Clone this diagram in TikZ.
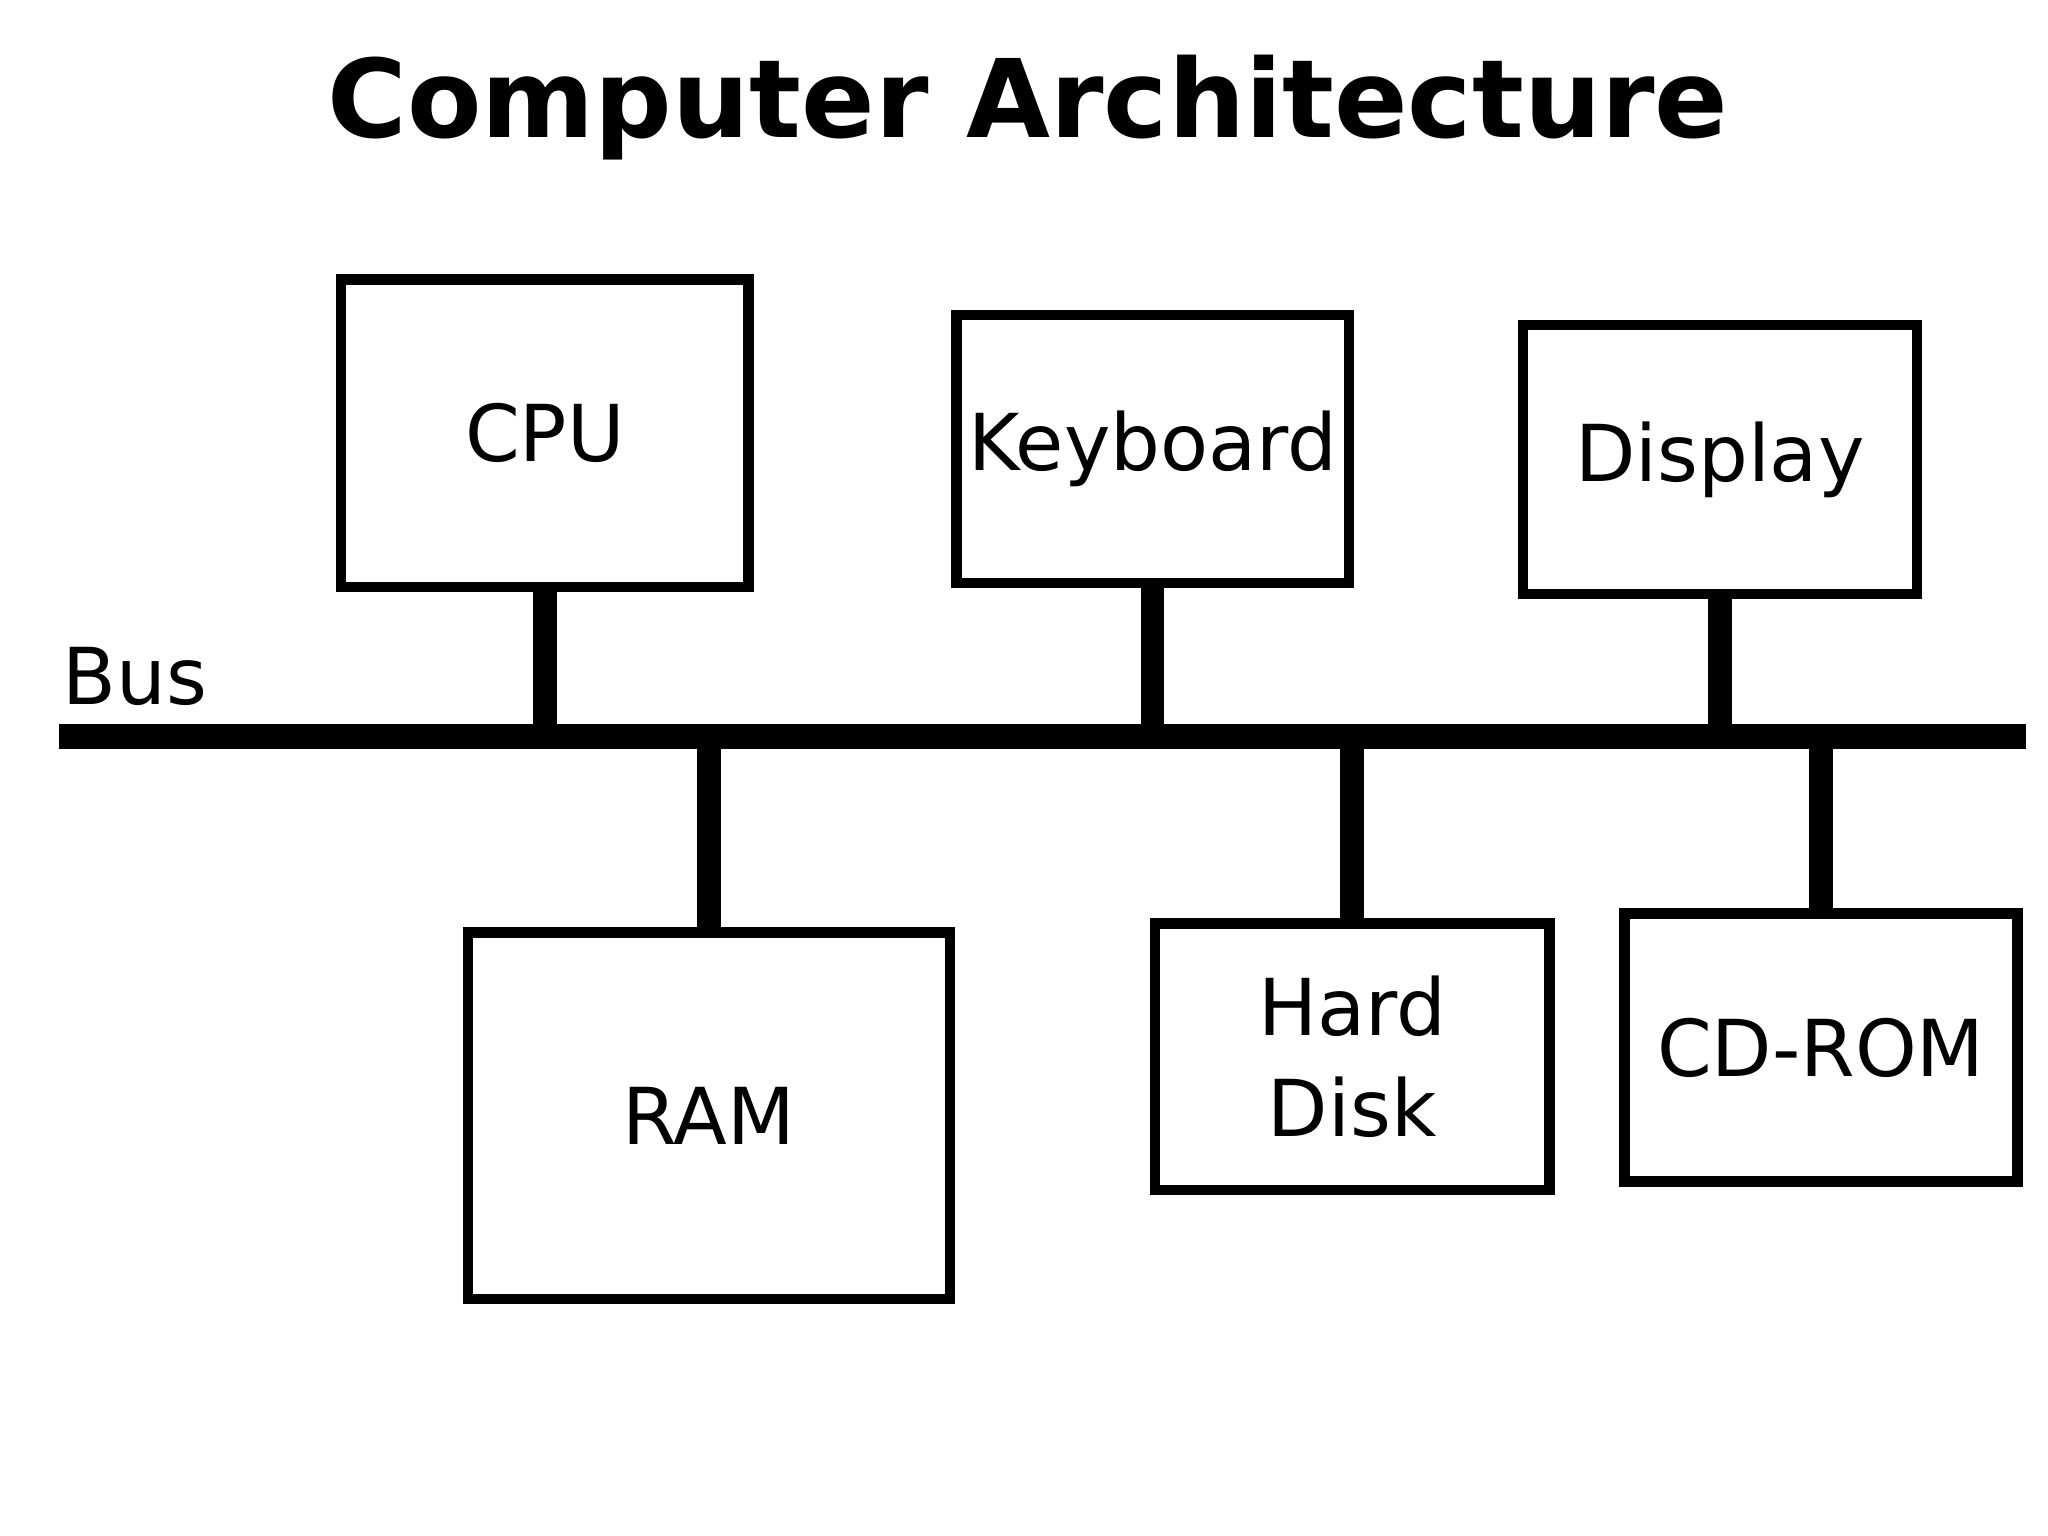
\documentclass[tikz,border=0pt]{standalone}
\usepackage{fontspec}
\setmainfont{DejaVu Sans}
\begin{document}
\begin{tikzpicture}[x=0.01cm,y=-0.01cm,
    box/.style={draw, line width=0.08cm, inner sep=0, align=center,
      font=\fontsize{17}{22}\selectfont},
    link/.style={line width=0.18cm},
    bus/.style={line width=0.19cm}
  ]
  \useasboundingbox (0,0) rectangle (1560,1170);
  \node[font=\fontsize{23.5}{28}\selectfont\bfseries] (title) at (783,82) {Computer Architecture};
  % boxes: centre, outer size minus line width
  \node[box, minimum width=310cm/100, minimum height=234cm/100] (cpu) at (415,330) {CPU};
  \node[box, minimum width=299cm/100, minimum height=204cm/100] (kbd) at (878,342) {Keyboard};
  \node[box, minimum width=300cm/100, minimum height=205cm/100] (disp) at (1310,350) {Display};
  \node[box, minimum width=367cm/100, minimum height=279cm/100] (ram) at (540,850) {RAM};
  \node[box, minimum width=300cm/100, minimum height=203cm/100] (hd) at (1030,805) {Hard\\Disk};
  \node[box, minimum width=299cm/100, minimum height=204cm/100] (cd) at (1387,798) {CD-ROM};
  % bus
  \coordinate (busL) at (45,561);
  \coordinate (busR) at (1543,561);
  \draw[bus] (busL) -- (busR);
  \node[font=\fontsize{17}{22}\selectfont, anchor=west, inner sep=0] (buslabel) at (47,515) {Bus};
  % links
  \foreach \n in {cpu,kbd,disp}
    \draw[link] (\n.south) -- (\n.south |- busL);
  \foreach \n in {ram,hd,cd}
    \draw[link] (\n.north) -- (\n.north |- busL);
\end{tikzpicture}
\end{document}
